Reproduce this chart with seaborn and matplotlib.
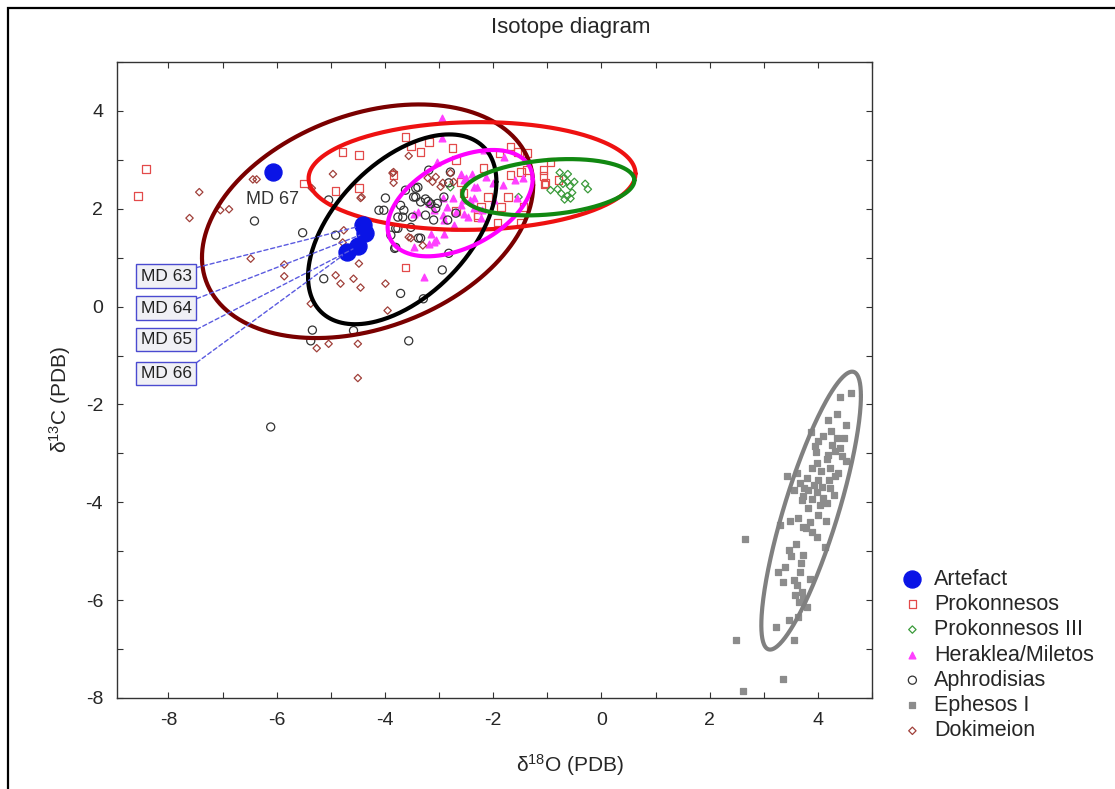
import numpy as np
import pandas as pd
import matplotlib
matplotlib.use("Agg")
import matplotlib.pyplot as plt
from matplotlib.patches import Rectangle
from matplotlib.ticker import MultipleLocator
import seaborn as sns

# ---- data (d18O, d13C) ----
artefact_x = [-4.41, -4.37, -4.50, -4.70, -6.07]
artefact_y = [1.66, 1.50, 1.23, 1.11, 2.75]
artefact_names = ["MD 63", "MD 64", "MD 65", "MD 66", "MD 67"]

prok_x = [-8.41, -8.56, -5.50, -4.78, -4.48, -4.91, -4.48, -3.62, -3.62, -3.34, -2.75, -2.18,
          -2.29, -3.19, -3.52, -2.69, -1.68, -1.55, -1.37, -1.37, -1.49, -1.07, -0.79, -1.03,
          -2.60, -2.55, -2.10, -1.73, -2.23, -1.86, -1.44, -2.29, -1.49, -1.92, -2.69, -3.84,
          -0.94, -1.07, -1.05, -1.88, -1.68]
prok_y = [2.81, 2.26, 2.52, 3.16, 3.10, 2.36, 2.42, 3.47, 0.80, 3.16, 3.24, 2.83,
          1.87, 3.37, 3.27, 3.00, 3.27, 3.16, 3.14, 2.79, 2.75, 2.79, 2.59, 2.53,
          2.55, 2.32, 2.24, 2.24, 2.03, 2.03, 2.03, 1.83, 1.72, 1.72, 1.95, 2.69,
          2.96, 2.67, 2.50, 3.14, 2.69]

prok3_x = [-0.77, -0.62, -0.70, -0.63, -0.71, -0.50, -0.30, -0.25, -0.94, -0.81, -0.58,
           -0.54, -0.63, -0.68, -0.74, -0.57, -2.79, -1.53]
prok3_y = [2.74, 2.71, 2.62, 2.55, 2.51, 2.55, 2.51, 2.40, 2.38, 2.40, 2.46,
           2.33, 2.26, 2.19, 2.31, 2.21, 2.44, 2.24]

herak_x = [-2.94, -2.94, -2.60, -1.59, -1.81, -2.36, -1.99, -1.56, -3.46, -3.09, -2.85, -2.54,
           -3.15, -3.09, -2.91, -3.28, -3.46, -2.17, -2.39, -2.54, -2.29, -3.03, -2.60, -2.42,
           -2.20, -2.91, -2.73, -3.19, -3.06, -2.73, -2.51, -2.75, -2.55, -2.69, -2.47, -2.36,
           -2.23, -2.93, -3.39, -3.19, -2.93, -2.14, -2.01, -2.36, -1.45, -1.80]
herak_y = [3.85, 3.44, 2.72, 2.59, 2.48, 2.21, 2.18, 2.21, 1.90, 1.97, 2.04, 1.90,
           1.49, 1.32, 1.49, 0.60, 1.22, 3.20, 2.71, 2.59, 2.45, 2.96, 2.07, 2.18,
           1.97, 1.77, 1.63, 1.29, 1.36, 1.66, 2.63, 2.22, 2.18, 1.93, 1.83, 2.01,
           1.81, 1.87, 1.93, 2.11, 2.22, 2.65, 2.53, 2.44, 2.62, 3.05]

aphro_x = [-6.41, -5.52, -5.34, -5.37, -5.04, -4.91, -3.99, -4.11, -3.82, -3.71, -5.13, -4.58,
           -3.56, -3.89, -3.76, -3.65, -2.94, -3.29, -2.82, -3.38, -3.76, -4.02, -3.71, -3.67,
           -3.80, -3.52, -3.47, -3.34, -3.03, -3.10, -2.84, -3.39, -3.19, -3.34, -3.62, -3.49,
           -3.25, -3.80, -3.43, -3.43, -3.06, -2.91, -2.79, -2.82, -2.69, -3.20, -3.25, -3.15,
           -6.11]
aphro_y = [1.75, 1.51, -0.48, -0.70, 2.18, 1.46, 2.22, 1.97, 1.19, 0.27, 0.57, -0.49,
           -0.70, 1.46, 1.83, 1.97, 0.75, 0.16, 1.09, 1.40, 1.60, 1.97, 2.07, 1.83,
           1.60, 1.62, 2.24, 2.14, 2.11, 1.77, 1.77, 2.44, 2.79, 1.40, 2.38, 1.83,
           1.87, 1.21, 2.42, 2.24, 2.01, 2.24, 2.75, 2.53, 1.91, 2.15, 2.20, 2.10,
           -2.46]

ephes_x = [4.61, 4.40, 4.18, 4.52, 3.87, 4.00, 4.09, 4.36, 4.48, 4.26, 4.41, 3.97,
           4.18, 4.32, 4.52, 3.98, 4.16, 4.23, 4.38, 4.32, 3.62, 3.43, 3.80, 4.01,
           3.67, 3.92, 4.07, 4.23, 3.82, 3.98, 3.73, 4.10, 3.89, 4.16, 4.04, 3.82,
           3.70, 4.15, 3.64, 3.49, 3.30, 3.78, 3.72, 3.98, 4.13, 3.47, 3.72, 3.69,
           3.27, 3.39, 3.67, 3.36, 3.55, 3.86, 3.61, 3.70, 3.58, 3.73, 3.66, 3.80,
           3.63, 3.46, 3.23, 3.56, 2.66, 2.49, 3.36, 2.61, 4.25, 4.05, 3.90, 4.45,
           3.75, 4.30, 3.55, 4.00, 3.90, 3.60, 4.20, 3.95, 4.35, 3.85, 3.50]
ephes_y = [-1.77, -1.85, -2.31, -2.41, -2.57, -2.75, -2.65, -2.68, -2.68, -2.82, -2.89, -2.97,
           -3.04, -2.96, -3.16, -3.20, -3.11, -3.29, -3.40, -3.47, -3.40, -3.47, -3.51, -3.54,
           -3.61, -3.64, -3.68, -3.71, -3.74, -3.78, -3.88, -3.92, -3.93, -4.02, -4.05, -4.12,
           -3.95, -4.39, -4.33, -4.39, -4.46, -4.53, -4.50, -4.70, -4.91, -4.98, -5.08, -5.25,
           -5.42, -5.32, -5.42, -5.63, -5.59, -5.56, -5.69, -5.83, -5.90, -5.97, -6.04, -6.14,
           -6.34, -6.40, -6.55, -6.82, -4.74, -6.82, -7.61, -7.85, -2.55, -3.35, -3.30, -3.05,
           -3.70, -3.85, -3.75, -4.25, -4.60, -4.85, -3.55, -2.85, -2.20, -4.40, -5.10]

doki_x = [-7.43, -7.61, -7.04, -6.88, -6.44, -6.37, -6.48, -5.86, -5.86, -5.37, -5.26, -5.04,
          -4.50, -4.82, -4.58, -4.48, -3.99, -3.84, -4.45, -4.96, -5.35, -4.76, -4.78, -4.91,
          -4.45, -3.95, -3.56, -4.50, -3.56, -3.86, -3.84, -3.12, -2.93, -2.79, -3.06, -2.73,
          -3.52, -3.30, -4.43, -3.21, -2.97]
doki_y = [2.34, 1.81, 1.97, 1.99, 2.60, 2.60, 0.98, 0.86, 0.62, 0.06, -0.85, -0.76,
          -0.76, 0.47, 0.57, 0.88, 0.47, 2.75, 2.22, 2.71, 2.42, 1.56, 1.31, 0.64,
          0.39, -0.08, 1.42, -1.46, 3.08, 2.73, 2.53, 2.55, 2.53, 2.73, 2.65, 2.55,
          1.40, 1.25, 2.24, 2.63, 2.45]

# group ellipses: centre, half x-span, y-offset at x-extreme, remaining y half-axis
ell_groups = ["Dokimeion", "Prokonnesos", "Aphrodisias", "Heraklea/Miletos", "Prokonnesos III", "Ephesos I"]
ell_cx = [-4.32, -2.39, -3.68, -2.61, -0.98, 3.875]
ell_cy = [1.745, 2.67, 1.58, 2.115, 2.44, -4.17]
ell_a = [3.06, 3.02, 1.74, 1.34, 1.59, 0.92]
ell_b = [0.74, 0.05, 0.97, 0.49, 0.14, 2.34]
ell_c = [2.27, 1.10, 1.68, 0.97, 0.558, 1.61]
ell_colors = ["#7a0000", "#ee1111", "#000000", "#ff00ff", "#118811", "#808080"]

sns.set_style("ticks")
plt.rcParams["font.family"] = ["Liberation Sans", "DejaVu Sans"]
plt.rcParams["mathtext.default"] = "regular"
plt.rcParams["axes.unicode_minus"] = False

fig = plt.figure(figsize=(11.15, 7.89), dpi=100)
ax = fig.add_axes([117 / 1115, 91 / 789, 755 / 1115, 636 / 789])

groups = [
    ("Prokonnesos", prok_x, prok_y, "s", 30, "none", "#e34a4a"),
    ("Prokonnesos III", prok3_x, prok3_y, "D", 14, "none", "#3a9a3a"),
    ("Heraklea/Miletos", herak_x, herak_y, "^", 24, "#ff40ff", "#ff40ff"),
    ("Aphrodisias", aphro_x, aphro_y, "o", 34, "none", "#333333"),
    ("Ephesos I", ephes_x, ephes_y, "s", 13, "#8c8c8c", "#8c8c8c"),
    ("Dokimeion", doki_x, doki_y, "D", 14, "none", "#a0403a"),
]
for name, xs, ys, mk, size, fc, ec in groups:
    df = pd.DataFrame({"d18O": xs, "d13C": ys})
    sns.scatterplot(data=df, x="d18O", y="d13C", ax=ax, marker=mk, s=size,
                    facecolor=fc, edgecolor=ec, linewidth=0.9, label=name, zorder=3)

t = np.linspace(0, 2 * np.pi, 300)
for cx, cy, a, b, c, col in zip(ell_cx, ell_cy, ell_a, ell_b, ell_c, ell_colors):
    ax.plot(cx + a * np.cos(t), cy + b * np.cos(t) + c * np.sin(t), color=col, lw=3, zorder=4)

art = pd.DataFrame({"d18O": artefact_x, "d13C": artefact_y, "name": artefact_names})
sns.scatterplot(data=art, x="d18O", y="d13C", ax=ax, marker="o", s=150, color="#0a14e6",
                edgecolor="#0a14e6", label="Artefact", zorder=5)

# labels for the artefacts
label_y = [0.62, -0.03, -0.67, -1.37]
for i in range(4):
    ax.annotate(artefact_names[i], xy=(artefact_x[i], artefact_y[i]), xytext=(-8.04, label_y[i]),
                ha="center", va="center", fontsize=12.5, color="#222222",
                bbox=dict(boxstyle="square,pad=0.25", fc="#f0f0f5", ec="#4a4ad0", lw=1),
                arrowprops=dict(arrowstyle="-", ls=(0, (3, 2)), color="#5a5ae0", lw=1,
                                relpos=(1, 1), shrinkA=0, shrinkB=4), zorder=6)
ax.text(artefact_x[4], artefact_y[4] - 0.57, artefact_names[4], ha="center", va="center",
        fontsize=13, color="#333333")

ax.set_xlim(-8.95, 5.0)
ax.set_ylim(-8.0, 5.0)
ax.set_xticks(range(-8, 5, 2))
ax.set_yticks(range(-8, 5, 2))
ax.xaxis.set_minor_locator(MultipleLocator(1))
ax.yaxis.set_minor_locator(MultipleLocator(1))
ax.tick_params(which="both", direction="in", top=True, right=True, length=4, width=0.8,
               labelsize=14, pad=10, color="#333333")
for sp in ax.spines.values():
    sp.set_color("#333333")
    sp.set_linewidth(1)

ax.set_xlabel("δ$^{18}$O (PDB)", fontsize=15)
ax.set_ylabel("δ$^{13}$C (PDB)", fontsize=15)
ax.xaxis.set_label_coords(0.60, -0.085)
ax.yaxis.set_label_coords(-0.058, 0.47)

fig.text(571 / 1115, 1 - 28 / 789, "Isotope diagram", ha="center", va="center", fontsize=16)

h, l = ax.get_legend_handles_labels()
order = ["Artefact", "Prokonnesos", "Prokonnesos III", "Heraklea/Miletos", "Aphrodisias", "Ephesos I", "Dokimeion"]
hd = dict(zip(l, h))
ax.legend([hd[k] for k in order], order, loc="upper left", bbox_to_anchor=(893 / 1115, 1 - 560 / 789),
          bbox_transform=fig.transFigure, frameon=False, fontsize=15.5, handlelength=1,
          handletextpad=0.5, labelspacing=0.2, borderaxespad=0)

fig.patches.append(Rectangle((8 / 1115, -0.1), 1.2, 1.1 - 8 / 789, transform=fig.transFigure,
                             fill=False, ec="black", lw=1.6))

fig.savefig("out.png", dpi=100)
